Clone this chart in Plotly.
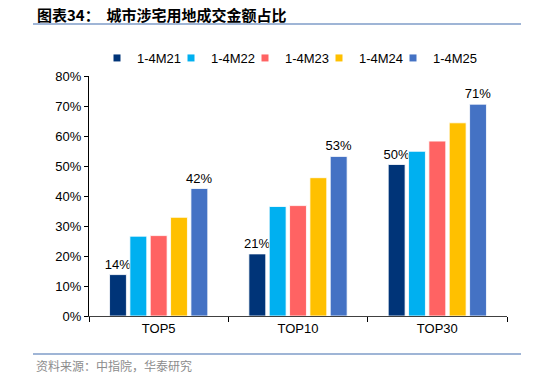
import plotly.graph_objects as go

categories = ["TOP5", "TOP10", "TOP30"]
series_names = ["1-4M21", "1-4M22", "1-4M23", "1-4M24", "1-4M25"]
v21 = [0.138, 0.207, 0.505]
v22 = [0.266, 0.365, 0.549]
v23 = [0.268, 0.368, 0.583]
v24 = [0.329, 0.461, 0.644]
v25 = [0.425, 0.532, 0.706]
colors = ["#003478", "#00B0F0", "#FF6363", "#FFC000", "#4472C4"]
y_ticks = [0, 0.1, 0.2, 0.3, 0.4, 0.5, 0.6, 0.7, 0.8]
y_tick_labels = ["0%", "10%", "20%", "30%", "40%", "50%", "60%", "70%", "80%"]

all_vals = [v21, v22, v23, v24, v25]
labeled = {0, 4}

W, H = 534, 378
ML, MR, MT, MB = 89, 27, 76, 62
plot_h = H - MT - MB
plot_w = W - ML - MR
def py(pix):
    return (H - MB - pix) / plot_h
def px(pix):
    return (pix - ML) / plot_w

legend_ids = ["legend", "legend2", "legend3", "legend4", "legend5"]
legend_marker_x = [118, 192, 266, 340, 414]

fig = go.Figure()
for i, (name, vals, col) in enumerate(zip(series_names, all_vals, colors)):
    fig.add_trace(go.Bar(
        x=categories, y=vals, name=name, showlegend=False, legendgroup=name,
        marker=dict(color=col, line=dict(color="white", width=0.8)),
        text=[f"{round(v*100)}%" for v in vals] if i in labeled else None,
        textposition="outside" if i in labeled else None,
        constraintext="none",
        textfont=dict(family="Liberation Sans, Arial", size=13, color="#000000"),
        cliponaxis=False,
    ))
# legend entries with small square swatches (one legend box per entry)
for name, col, lid in zip(series_names, colors, legend_ids):
    fig.add_trace(go.Scatter(
        x=[None], y=[None], mode="markers", name=name, legendgroup=name,
        marker=dict(symbol="square", size=7, color=col), showlegend=True,
        legend=lid,
    ))

legend_common = dict(orientation="h", xanchor="left", yanchor="middle", y=py(58),
                     font=dict(size=13, family="Liberation Sans, Arial"),
                     itemwidth=30, bgcolor="rgba(0,0,0,0)")
legend_layout = {}
for lid, mx in zip(legend_ids, legend_marker_x):
    legend_layout[lid] = dict(legend_common, x=px(mx - 21))

fig.update_layout(
    width=W, height=H,
    margin=dict(l=ML, r=MR, t=MT, b=MB, autoexpand=False),
    paper_bgcolor="white", plot_bgcolor="white",
    barmode="group", bargap=0.27, bargroupgap=0.17,
    font=dict(family="Liberation Sans, Arial", size=13, color="#000000"),
    showlegend=True,
    xaxis=dict(showline=True, linecolor="#404040", linewidth=1, ticks="outside",
               tickson="boundaries", ticklen=5, tickcolor="#000000",
               tickfont=dict(size=13)),
    yaxis=dict(range=[0, 0.8], tickvals=y_ticks, ticktext=y_tick_labels,
               showline=True, linecolor="#000000", linewidth=1, ticks="outside",
               ticklen=4, tickcolor="#000000", showgrid=False, zeroline=False,
               tickfont=dict(size=13)),
    annotations=[
        dict(text="<b>图表34：  城市涉宅用地成交金额占比</b>", xref="paper", yref="paper",
             x=px(35), y=py(14), xanchor="left", yanchor="middle", showarrow=False,
             font=dict(family="Noto Sans CJK SC", size=15, color="#000000")),
        dict(text="资料来源：中指院，华泰研究", xref="paper", yref="paper",
             x=px(34), y=py(365), xanchor="left", yanchor="middle", showarrow=False,
             font=dict(family="Noto Sans CJK SC", size=12, color="#8C8C8C")),
    ],
    **legend_layout,
)
fig.add_shape(type="line", xref="paper", yref="paper", x0=px(33), x1=px(521),
              y0=py(24), y1=py(24), line=dict(color="#7F9CC8", width=1.5))
fig.add_shape(type="line", xref="paper", yref="paper", x0=px(33), x1=px(521),
              y0=py(354), y1=py(354), line=dict(color="#7F9CC8", width=1.5))

fig.write_html("out.html", config={"displayModeBar": False})
with open("out.html", "r", encoding="utf-8") as f:
    html = f.read()
html = html.replace("<body>", '<body style="margin:0;padding:0;overflow:hidden">', 1)
with open("out.html", "w", encoding="utf-8") as f:
    f.write(html)
